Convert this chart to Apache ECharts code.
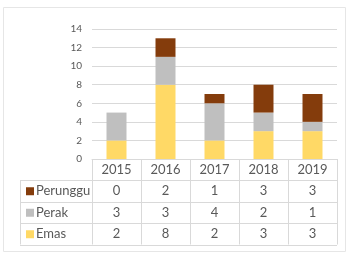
<!DOCTYPE html><html><head><meta charset="utf-8">
<script src="https://cdn.jsdelivr.net/npm/echarts@6/dist/echarts.min.js"></script>
<style>html,body{margin:0;padding:0;background:#fff}#c{width:348px;height:255px}</style></head>
<body><div id="c"></div><script>
const categories=['2015','2016','2017','2018','2019'];
const emas=[2,8,2,3,3];
const perak=[3,3,4,2,1];
const perunggu=[0,2,1,3,3];
const seriesNames=['Emas','Perak','Perunggu'];
const seriesColors=['#FFD966','#BFBFBF','#843C0C'];
const seriesData=[emas,perak,perunggu];
const FONT='Lato';
const TXT='#595959';
const LINE='#d9d9d9';

const chart=echarts.init(document.getElementById('c'));
chart.setOption({
  animation:false,
  grid:{left:92,right:11,top:29,bottom:96},
  xAxis:{type:'category',data:categories,
    axisLine:{show:true,lineStyle:{color:LINE}},
    axisTick:{show:false},
    axisLabel:{show:false}},
  yAxis:{type:'value',min:0,max:14,interval:2,
    axisLine:{show:false},axisTick:{show:false},
    axisLabel:{color:TXT,fontSize:10,fontFamily:FONT,margin:10},
    splitLine:{lineStyle:{color:LINE}}},
  series:seriesNames.map((n,i)=>({name:n,type:'bar',stack:'s',barWidth:20,
    data:seriesData[i],itemStyle:{color:seriesColors[i]}}))
});

// data table
const pts=categories.map((c,i)=>chart.convertToPixel({xAxisIndex:0,yAxisIndex:0},[i,0]));
const band=pts.length>1?pts[1][0]-pts[0][0]:49;
const x0=pts[0][0]-band/2, x1=pts[pts.length-1][0]+band/2;
const yTop=pts[0][1];
const headH=21, rowH=21.5, leftX=20;
const rows=[[perunggu,2],[perak,1],[emas,0]];
const g=[];
for(let k=0;k<=categories.length;k++){
  const x=Math.round(x0+k*band)+0.5;
  g.push({type:'line',shape:{x1:x,y1:yTop,x2:x,y2:yTop+headH+rowH*3},style:{stroke:LINE,lineWidth:1}});
}
g.push({type:'line',shape:{x1:leftX+0.5,y1:yTop+headH,x2:leftX+0.5,y2:yTop+headH+rowH*3},style:{stroke:LINE,lineWidth:1}});
for(let r=0;r<=3;r++){
  const y=Math.round(yTop+headH+r*rowH)+0.5;
  g.push({type:'line',shape:{x1:leftX,y1:y,x2:x1,y2:y},style:{stroke:LINE,lineWidth:1}});
}
categories.forEach((c,i)=>{
  g.push({type:'text',style:{text:c,x:pts[i][0],y:yTop+headH/2+0.5,textAlign:'center',textVerticalAlign:'middle',fill:TXT,font:'13px "'+FONT+'"'}});
});
rows.forEach(([arr,si],r)=>{
  const yc=yTop+headH+r*rowH+rowH/2+0.5;
  g.push({type:'rect',shape:{x:26,y:yc-4,width:8,height:8},style:{fill:seriesColors[si]}});
  g.push({type:'text',style:{text:seriesNames[si],x:36,y:yc,textAlign:'left',textVerticalAlign:'middle',fill:TXT,font:'13px "'+FONT+'"'}});
  arr.forEach((v,i)=>{
    g.push({type:'text',style:{text:String(v),x:pts[i][0],y:yc,textAlign:'center',textVerticalAlign:'middle',fill:TXT,font:'13px "'+FONT+'"'}});
  });
});
g.push({type:'rect',shape:{x:3.5,y:7.5,width:342,height:244},style:{fill:'none',stroke:'#e6e6e6',lineWidth:1}});
chart.setOption({graphic:{elements:g}});
</script></body></html>
